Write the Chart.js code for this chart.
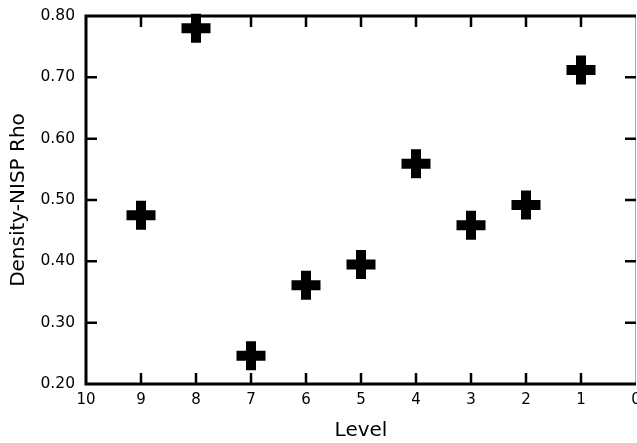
<!DOCTYPE html>
<html>
<head>
<meta charset="utf-8">
<script src="https://cdn.jsdelivr.net/npm/chart.js@4/dist/chart.umd.min.js"></script>
<style>
  html, body { margin: 0; padding: 0; background: #fff; }
  canvas { display: block; }
</style>
</head>
<body>
<canvas id="chart" width="637" height="443"></canvas>
<script>
// Level on the x axis (reversed), rho on the y axis
const levels = [9, 8, 7, 6, 5, 4, 3, 2, 1];
const rho = [0.475, 0.78, 0.246, 0.361, 0.395, 0.559, 0.459, 0.492, 0.712];

const xMin = 0, xMax = 10, xStep = 1;
const yMin = 0.2, yMax = 0.8, yStep = 0.1;

const xTitle = "Level";
const yTitle = "Density-NISP Rho";

const FONT = "'DejaVu Sans', sans-serif";

// frame and inward ticks on all four sides
const frameTicks = {
  id: "frameTicks",
  afterDatasetsDraw(chart) {
    const { ctx, chartArea: a, scales } = chart;
    const len = 11;
    ctx.save();
    ctx.lineCap = "butt";

    // thin right edge
    ctx.lineWidth = 1;
    ctx.strokeStyle = "#aaa";
    ctx.beginPath();
    ctx.moveTo(a.right - 0.5, a.top);
    ctx.lineTo(a.right - 0.5, a.bottom);
    ctx.stroke();

    ctx.strokeStyle = "#000";
    ctx.lineWidth = 3;
    ctx.beginPath();
    ctx.moveTo(a.right, a.top);
    ctx.lineTo(a.left, a.top);
    ctx.lineTo(a.left, a.bottom);
    ctx.lineTo(a.right, a.bottom);
    ctx.stroke();

    ctx.lineWidth = 2.5;
    scales.x.ticks.forEach(t => {
      if (t.value === xMin || t.value === xMax) return;
      const px = scales.x.getPixelForValue(t.value);
      ctx.beginPath();
      ctx.moveTo(px, a.bottom); ctx.lineTo(px, a.bottom - len);
      ctx.moveTo(px, a.top); ctx.lineTo(px, a.top + len);
      ctx.stroke();
    });
    scales.y.ticks.forEach(t => {
      if (Math.abs(t.value - yMin) < 1e-6 || Math.abs(t.value - yMax) < 1e-6) return;
      const py = scales.y.getPixelForValue(t.value);
      ctx.beginPath();
      ctx.moveTo(a.left, py); ctx.lineTo(a.left + len, py);
      ctx.moveTo(a.right, py); ctx.lineTo(a.right - len, py);
      ctx.stroke();
    });
    ctx.restore();
  }
};

new Chart(document.getElementById("chart"), {
  type: "scatter",
  data: {
    datasets: [{
      data: levels.map((x, i) => ({ x: x, y: rho[i] })),
      pointStyle: "cross",
      pointRadius: 14.5,
      pointHoverRadius: 14.5,
      borderColor: "#000",
      backgroundColor: "#000",
      pointBorderWidth: 10,
      clip: false
    }]
  },
  options: {
    responsive: false,
    animation: false,
    layout: { autoPadding: false, padding: { left: 0, right: 1, top: 16, bottom: 0 } },
    plugins: {
      legend: { display: false },
      tooltip: { enabled: false }
    },
    scales: {
      x: {
        type: "linear",
        reverse: true,
        min: xMin,
        max: xMax,
        grid: { display: false, drawTicks: false },
        border: { display: false },
        ticks: {
          stepSize: xStep,
          color: "#000",
          padding: 7,
          maxRotation: 0,
          font: { family: FONT, size: 15 }
        },
        title: {
          display: true,
          text: xTitle,
          color: "#000",
          font: { family: FONT, size: 20 },
          padding: { top: 4, bottom: 0 }
        },
        afterFit(s) {
          s.height = 59;
          s.paddingLeft = 0;
          s.paddingRight = 0;
        }
      },
      y: {
        min: yMin,
        max: yMax,
        grid: { display: false, drawTicks: false },
        border: { display: false },
        ticks: {
          stepSize: yStep,
          color: "#000",
          padding: 11,
          font: { family: FONT, size: 15.5 },
          callback: v => v.toFixed(2)
        },
        title: {
          display: true,
          text: yTitle,
          color: "#000",
          font: { family: FONT, size: 20 },
          padding: { top: 6.5, bottom: 0 }
        },
        afterFit(s) {
          s.width = 86;
          s.paddingTop = 0;
          s.paddingBottom = 0;
        }
      }
    }
  },
  plugins: [frameTicks]
});
</script>
</body>
</html>
